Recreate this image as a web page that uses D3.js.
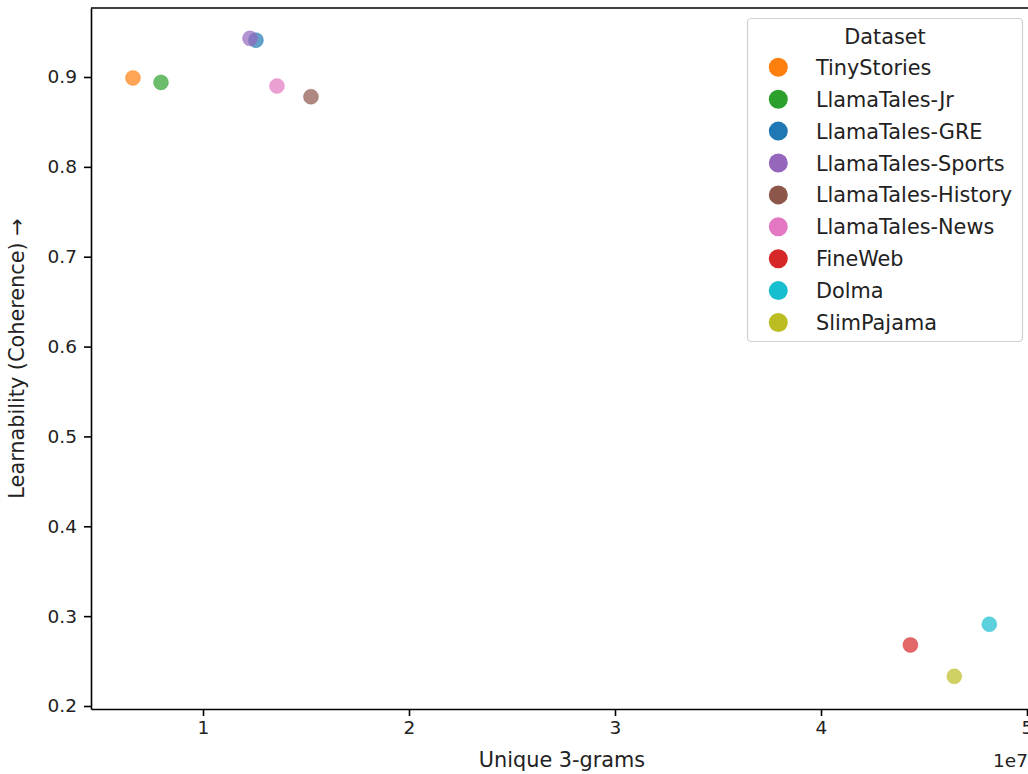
<!DOCTYPE html>
<html>
<head>
<meta charset="utf-8">
<script src="https://cdn.jsdelivr.net/npm/d3@7"></script>
<style>
  html, body { margin: 0; padding: 0; background: #fff; }
  svg { display: block; font-family: "DejaVu Sans", sans-serif; }
</style>
</head>
<body>
<svg id="chart" width="1028" height="774"></svg>
<script>
// Datasets: unique 3-gram counts vs. learnability (coherence)
const datasets = ["TinyStories", "LlamaTales-Jr", "LlamaTales-GRE", "LlamaTales-Sports",
  "LlamaTales-History", "LlamaTales-News", "FineWeb", "Dolma", "SlimPajama"];
const uniqueTrigrams = [0.660e7, 0.796e7, 1.257e7, 1.228e7, 1.524e7, 1.359e7, 4.434e7, 4.817e7, 4.647e7];
const coherence = [0.899, 0.894, 0.941, 0.943, 0.878, 0.890, 0.268, 0.291, 0.233];
const colors = ["#ff7f0e", "#2ca02c", "#1f77b4", "#9467bd", "#8c564b", "#e377c2", "#d62728", "#17becf", "#bcbd22"];
const xTicks = [1e7, 2e7, 3e7, 4e7, 5e7];
const yTicks = [0.2, 0.3, 0.4, 0.5, 0.6, 0.7, 0.8, 0.9];

const svg = d3.select("#chart");
const frame = { left: 91, right: 1032, top: 8, bottom: 709 };
const tickFont = 18.5;
const labelFont = 20.8;

// Scales anchored on the tick positions, then extended to the axes frame
const x = d3.scaleLinear().domain([1e7, 5e7]).range([203, 1027]);
x.domain([x.invert(frame.left), x.invert(frame.right)]).range([frame.left, frame.right]);
const y = d3.scaleLinear().domain([0.2, 0.9]).range([706, 77]);
y.domain([y.invert(frame.bottom), y.invert(frame.top)]).range([frame.bottom, frame.top]);

// Points, drawn in dataset order
svg.append("g").selectAll("circle")
  .data(datasets.map((d, i) => ({ name: d, x: uniqueTrigrams[i], y: coherence[i], c: colors[i] })))
  .join("circle")
  .attr("cx", d => x(d.x))
  .attr("cy", d => y(d.y))
  .attr("r", 7.5)
  .attr("fill", d => d.c)
  .attr("fill-opacity", 0.7)
  .attr("stroke", d => d.c)
  .attr("stroke-opacity", 0.7)
  .attr("stroke-width", 0.5);

// Axes
const xAxis = d3.axisBottom(x).tickValues(xTicks).tickFormat(d => d3.format("d")(d / 1e7))
  .tickSize(7).tickPadding(5).tickSizeOuter(0);
const gx = svg.append("g").attr("transform", `translate(0,${frame.bottom})`).call(xAxis);
const yAxis = d3.axisLeft(y).tickValues(yTicks).tickFormat(d3.format(".1f"))
  .tickSize(7).tickPadding(7).tickSizeOuter(0);
const gy = svg.append("g").attr("transform", `translate(${frame.left},0)`).call(yAxis);

[gx, gy].forEach(g => {
  g.selectAll("path.domain").attr("stroke", "#000").attr("stroke-width", 1.6);
  g.selectAll(".tick line").attr("stroke", "#000").attr("stroke-width", 1.6);
  g.selectAll(".tick text").attr("fill", "#222").style("font-size", tickFont + "px")
    .style("font-family", "DejaVu Sans");
});

// Top spine
svg.append("line").attr("x1", frame.left).attr("x2", frame.right)
  .attr("y1", frame.top).attr("y2", frame.top)
  .attr("stroke", "#000").attr("stroke-width", 1.6);

// Axis labels
svg.append("text").attr("x", 562).attr("y", 767).attr("text-anchor", "middle")
  .attr("fill", "#222").style("font-size", labelFont + "px").text("Unique 3-grams");
svg.append("text").attr("x", 1028).attr("y", 767).attr("text-anchor", "end")
  .attr("fill", "#222").style("font-size", tickFont + "px").text("1e7");
svg.append("text").attr("transform", `translate(24,${(frame.top + frame.bottom) / 2}) rotate(-90)`)
  .attr("text-anchor", "middle").attr("fill", "#222").style("font-size", labelFont + "px")
  .text("Learnability (Coherence) →");

// Legend
const legend = svg.append("g");
legend.append("rect").attr("x", 747.5).attr("y", 18.5).attr("width", 275).attr("height", 323)
  .attr("rx", 4).attr("fill", "#fff").attr("fill-opacity", 0.8)
  .attr("stroke", "#d0d0d0").attr("stroke-width", 1.2);
legend.append("text").attr("x", 885).attr("y", 44).attr("text-anchor", "middle")
  .attr("fill", "#222").style("font-size", labelFont + "px").text("Dataset");
const rows = legend.selectAll("g.row").data(datasets).join("g").attr("class", "row")
  .attr("transform", (d, i) => `translate(0,${67.3 + i * 31.9})`);
rows.append("circle").attr("cx", 778.3).attr("cy", 0).attr("r", 9.5)
  .attr("fill", (d, i) => colors[i]);
rows.append("text").attr("x", 816).attr("y", 0).attr("dy", "0.36em")
  .attr("fill", "#222").style("font-size", labelFont + "px").text(d => d);
</script>
</body>
</html>
